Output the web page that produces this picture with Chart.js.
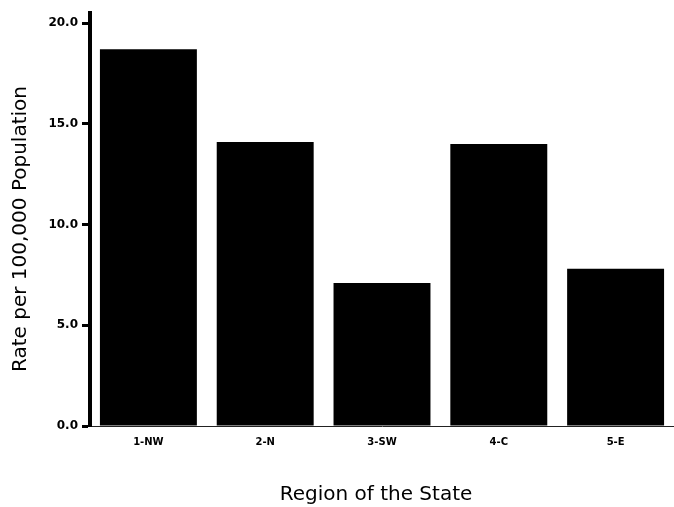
<!DOCTYPE html>
<html>
<head>
<meta charset="utf-8">
<script src="https://cdn.jsdelivr.net/npm/chart.js@4/dist/chart.umd.min.js"></script>
<style>
html,body{margin:0;padding:0;background:#fff;}
#wrap{position:relative;width:674px;height:507px;}
</style>
</head>
<body>
<div id="wrap"><canvas id="chart"></canvas></div>
<script>
'use strict';
const regions=['1-NW','2-N','3-SW','4-C','5-E'];
const rates=[18.7,14.1,7.1,14.0,7.8];
const yTicks=[0,5,10,15,20];
const xTitle='Region of the State';
const yTitle='Rate per 100,000 Population';

// axis titles drawn by hand so they sit where the scan has them
const axisTitles={
  id:'axisTitles',
  afterDraw(chart){
    const ctx=chart.ctx;
    ctx.save();
    ctx.fillStyle='#000';
    ctx.font='20px "DejaVu Sans"';
    ctx.textAlign='center';
    ctx.textBaseline='middle';
    ctx.fillText(xTitle,376,495);
    ctx.translate(21,229);
    ctx.rotate(-Math.PI/2);
    ctx.fillText(yTitle,0,0);
    ctx.restore();
  }
};

new Chart(document.getElementById('chart'),{
  type:'bar',
  data:{labels:regions,datasets:[{data:rates,backgroundColor:'#000',borderWidth:0,barPercentage:0.83,categoryPercentage:1}]},
  options:{
    responsive:true,
    maintainAspectRatio:false,
    animation:false,
    layout:{padding:{top:13,right:0,bottom:0,left:0}},
    plugins:{legend:{display:false},tooltip:{enabled:false}},
    scales:{
      x:{
        grid:{display:false},
        border:{display:true,color:'#222',width:1},
        ticks:{color:'#000',font:{family:'DejaVu Sans',size:10,weight:'bold'},padding:2,maxRotation:0},
        afterFit:s=>{s.height=81;}
      },
      y:{
        min:0,max:20.5,
        afterBuildTicks:s=>{s.ticks=yTicks.map(v=>({value:v}));},
        grid:{drawOnChartArea:false,drawTicks:true,tickLength:8,tickWidth:3,tickColor:'#000'},
        border:{display:true,color:'#000',width:4},
        ticks:{color:'#000',font:{family:'DejaVu Sans',size:12,weight:'bold'},padding:4,callback:v=>Number(v).toFixed(1)},
        afterFit:s=>{s.width=90;}
      }
    }
  },
  plugins:[axisTitles]
});
</script>
</body>
</html>
